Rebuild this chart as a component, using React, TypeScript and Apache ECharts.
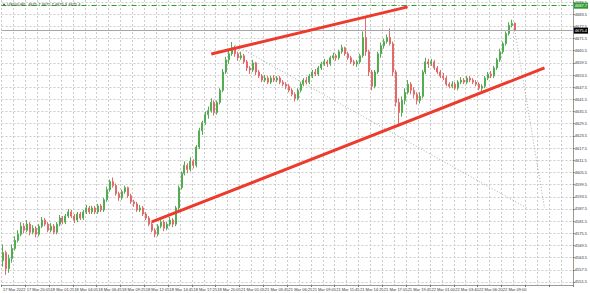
import React, { useEffect, useRef } from 'react';
import * as echarts from 'echarts';

// ---- time axis labels (one every 8 bars) ----
const timeLabels = [
  '17 Mar 2022', '17 Mar 20:05', '18 Mar 01:25', '18 Mar 04:05', '18 Mar 06:45', '18 Mar 09:25',
  '18 Mar 12:05', '18 Mar 14:45', '18 Mar 17:25', '18 Mar 20:05', '21 Mar 01:05', '21 Mar 03:45',
  '21 Mar 06:25', '21 Mar 09:05', '21 Mar 11:45', '21 Mar 14:25', '21 Mar 17:05', '21 Mar 19:45',
  '22 Mar 01:00', '22 Mar 03:40', '22 Mar 06:20', '22 Mar 09:00',
];
const LABEL_STEP = 8;
const TOTAL_SLOTS = 192;

// ---- price scale ticks ----
const yTicks = [
  4551.5, 4557.5, 4563.5, 4569.5, 4575.5, 4581.5, 4587.5, 4593.5, 4599.5, 4605.5, 4611.5, 4617.5,
  4623.5, 4629.5, 4635.5, 4641.5, 4647.5, 4653.5, 4659.5, 4665.5, 4671.5, 4677.5, 4683.5, 4689.5,
];

// ---- candles ----
const opens = [
  4562, 4566, 4558, 4563, 4568, 4572, 4575, 4579, 4577, 4580,
  4576, 4578, 4575, 4579, 4582, 4580, 4577, 4579, 4576, 4580,
  4583, 4581, 4584, 4586, 4584, 4582, 4585, 4583, 4586, 4588,
  4586, 4588, 4586, 4589, 4587, 4592, 4597, 4601, 4599, 4595,
  4593, 4596, 4598, 4594, 4591, 4590, 4587, 4588, 4585, 4583,
  4580, 4577, 4575, 4579, 4581, 4578, 4580, 4582, 4580, 4588,
  4598, 4605, 4609, 4607, 4611, 4609, 4618, 4626, 4630, 4634,
  4636, 4640, 4635, 4640, 4646, 4655, 4661, 4664, 4667, 4664,
  4662, 4663, 4660, 4657, 4656, 4659.5, 4655, 4653, 4651, 4652,
  4650, 4652, 4651, 4652, 4650, 4649, 4648, 4646, 4644, 4642,
  4646, 4649, 4651, 4650, 4653, 4655, 4654, 4657, 4659, 4660,
  4659, 4662, 4663, 4662, 4665, 4667, 4664, 4662, 4660, 4659,
  4660, 4663, 4672, 4665, 4655, 4648, 4655, 4664, 4668, 4670,
  4672, 4669, 4655, 4640, 4635, 4641, 4645, 4649, 4646, 4644,
  4641, 4643, 4655, 4660, 4659, 4660, 4657, 4655, 4653, 4652,
  4649, 4648, 4649, 4647, 4650, 4651, 4650, 4652, 4651, 4650,
  4649, 4647, 4648, 4652, 4654, 4653, 4657, 4661, 4665, 4669,
  4674, 4678, 4679,
];
const closes = [
  4566, 4558, 4563, 4568, 4572, 4575, 4579, 4577, 4580, 4576,
  4578, 4575, 4579, 4582, 4580, 4577, 4579, 4576, 4580, 4583,
  4581, 4584, 4586, 4584, 4582, 4585, 4583, 4586, 4588, 4586,
  4588, 4586, 4589, 4587, 4592, 4597, 4601, 4599, 4595, 4593,
  4596, 4598, 4594, 4591, 4590, 4587, 4588, 4585, 4583, 4580,
  4577, 4575, 4579, 4581, 4578, 4580, 4582, 4580, 4588, 4598,
  4605, 4609, 4607, 4611, 4609, 4618, 4626, 4630, 4634, 4636,
  4640, 4635, 4640, 4646, 4655, 4661, 4664, 4667, 4664, 4662,
  4663, 4660, 4657, 4656, 4659.5, 4655, 4653, 4651, 4652, 4650,
  4652, 4651, 4652, 4650, 4649, 4648, 4646, 4644, 4642, 4646,
  4649, 4651, 4650, 4653, 4655, 4654, 4657, 4659, 4660, 4659,
  4662, 4663, 4662, 4665, 4667, 4664, 4662, 4660, 4659, 4660,
  4663, 4672, 4665, 4655, 4648, 4655, 4664, 4668, 4670, 4672,
  4669, 4655, 4640, 4635, 4641, 4645, 4649, 4646, 4644, 4641,
  4643, 4655, 4660, 4659, 4660, 4657, 4655, 4653, 4652, 4649,
  4648, 4649, 4647, 4650, 4651, 4650, 4652, 4651, 4650, 4649,
  4647, 4648, 4652, 4654, 4653, 4657, 4661, 4665, 4669, 4674,
  4678, 4679, 4675.4,
];
const lows = [
  4559, 4555, 4556, 4561, 4567, 4571, 4574, 4575.5, 4576, 4574.5,
  4575, 4573.5, 4574, 4578, 4579, 4576, 4576, 4575, 4575, 4579,
  4580, 4580, 4583, 4583, 4580.5, 4581, 4582, 4582, 4585, 4585,
  4585, 4585, 4585, 4586, 4586, 4591, 4596, 4598, 4594, 4591.5,
  4592, 4595, 4593, 4590, 4588.5, 4586, 4586, 4584, 4582, 4579,
  4576, 4573.5, 4574, 4578, 4576.5, 4577, 4579, 4578.5, 4579, 4587,
  4597, 4604, 4605, 4606, 4607.5, 4608, 4617, 4624, 4629, 4632,
  4635, 4633.5, 4634, 4639, 4645, 4654, 4659, 4663, 4662.5, 4660.5,
  4661, 4659, 4655.5, 4654, 4655, 4653.5, 4652, 4650, 4650, 4649,
  4649, 4650, 4650, 4649, 4648, 4646.5, 4645, 4643, 4640.5, 4641,
  4645, 4648, 4649, 4649, 4652, 4653, 4653, 4656, 4658, 4657.5,
  4658, 4661, 4660.5, 4661, 4664, 4663, 4661, 4659, 4658, 4657.5,
  4659, 4662, 4663, 4653, 4646, 4647, 4654, 4662, 4666.5, 4669,
  4668, 4653, 4638, 4628, 4633, 4639, 4644, 4644, 4642, 4639,
  4639.5, 4642, 4654, 4657, 4658, 4656, 4654, 4652, 4651, 4648,
  4647, 4647, 4646, 4646, 4649, 4649, 4649, 4650, 4649, 4648,
  4646, 4645.5, 4647, 4651, 4652, 4652, 4656, 4660, 4664, 4668,
  4673, 4677, 4675,
];
const highs = [
  4570, 4567, 4565, 4570, 4574, 4577, 4581, 4580.5, 4582, 4581,
  4579.5, 4579, 4580, 4583.5, 4583, 4581, 4580.5, 4580, 4581, 4584.5,
  4584, 4585, 4587.5, 4587, 4585, 4586, 4586, 4587, 4589.5, 4589,
  4589, 4589, 4590, 4590, 4593, 4598.5, 4602, 4603, 4600, 4596,
  4597, 4599, 4598.5, 4595, 4592, 4591, 4589.5, 4589, 4586, 4584,
  4581, 4578, 4580, 4582.5, 4582, 4581, 4583.5, 4583, 4589, 4599,
  4606, 4611, 4610, 4613, 4612, 4619, 4627.5, 4631, 4635.5, 4638,
  4642, 4641, 4641, 4647, 4656.5, 4662.5, 4665.5, 4669.8, 4668, 4665,
  4665, 4664, 4661, 4658, 4661, 4660, 4656, 4654, 4653.5, 4653,
  4653, 4653.5, 4653, 4653, 4651, 4650, 4649, 4647, 4645, 4647,
  4650, 4652, 4652.5, 4654, 4656, 4656.5, 4658, 4660, 4661.5, 4661,
  4663, 4664.5, 4664, 4666, 4668.5, 4667.5, 4665, 4663, 4661, 4661,
  4664, 4675, 4682, 4666, 4656, 4656, 4665, 4669.5, 4671.5, 4673.5,
  4676.5, 4670, 4656, 4642, 4643, 4647, 4651, 4650, 4647.5, 4645,
  4645, 4656, 4662, 4661.5, 4661.5, 4661, 4658, 4656, 4654.5, 4653,
  4650, 4650.5, 4650, 4651, 4652.5, 4652, 4653, 4653, 4652, 4651,
  4650, 4649, 4653, 4655, 4655.5, 4658, 4662, 4666.5, 4670, 4675,
  4679.5, 4680.8, 4679.5,
];

// ---- drawn objects: [barIndex, price] ----
const upperTrend = [[69.5, 4663.9], [135.5, 4687.1]];
const lowerTrend = [[49.5, 4581.1], [182.2, 4657.0]];
const projLine1 = [[77.5, 4668.3], [176.2, 4588.0]];
const projLine2 = [[172.2, 4675.7], [182.2, 4588.0]];
const bidPrice = 4675.4;
const alertPrice = 4687.7;
const headerText = 'US500,M5  4675.7 4675.7 4675.3 4675.4';

const UP = '#52ad52';
const DOWN = '#e26a6a';
const TREND = '#ec3b2c';
const GRID = '#cccccc';

export default function App() {
  const ref = useRef<HTMLDivElement>(null);
  useEffect(() => {
    if (!ref.current) return;
    const chart = echarts.init(ref.current, undefined, { renderer: 'svg' });
    const categories = Array.from({ length: TOTAL_SLOTS }, (_, i) => String(i));
    const candles = opens.map((o, i) => [o, closes[i], lows[i], highs[i]]);
    const pair = (pts: number[][], style: any) => [
      { coord: pts[0], lineStyle: style },
      { coord: pts[1] },
    ];
    const trendStyle = { color: TREND, width: 3, type: 'solid' };
    const projStyle = { color: '#8c9a8c', width: 0.8, type: [1, 2] };
    chart.setOption({
      animation: false,
      backgroundColor: '#ffffff',
      grid: { left: 0, right: 14, top: 0, bottom: 8 },
      xAxis: {
        type: 'category',
        data: categories,
        boundaryGap: true,
        axisLine: { show: true, lineStyle: { color: '#9a9a9a' } },
        axisTick: { show: true, interval: LABEL_STEP - 1, length: 2, lineStyle: { color: '#777' } },
        axisLabel: {
          interval: LABEL_STEP - 1,
          fontSize: 4,
          color: '#333',
          align: 'left',
          margin: 2,
          hideOverlap: false,
          formatter: (_v: string, i: number) =>
            i % LABEL_STEP === 0 && timeLabels[i / LABEL_STEP] ? timeLabels[i / LABEL_STEP] : '',
        },
        splitLine: { show: true, interval: 3, lineStyle: { color: GRID, type: [2, 2], width: 1 } },
      },
      yAxis: {
        type: 'value',
        position: 'right',
        min: 4550,
        max: 4690.5,
        scale: true,
        axisLine: { show: true, lineStyle: { color: '#9a9a9a' } },
        axisTick: { show: true, length: 2, customValues: yTicks, lineStyle: { color: '#777' } },
        axisLabel: {
          fontSize: 4,
          color: '#333',
          margin: 2,
          customValues: yTicks,
          formatter: (v: number) => v.toFixed(1),
        },
        splitLine: { show: true, lineStyle: { color: GRID, type: [2, 2], width: 1 } },
      },
      series: [
        {
          type: 'candlestick',
          data: candles,
          barWidth: 1.5,
          itemStyle: { color: UP, color0: DOWN, borderColor: UP, borderColor0: DOWN, borderWidth: 1 },
          markLine: {
            symbol: ['none', 'none'],
            silent: true,
            animation: false,
            label: { show: false },
            data: [
              { yAxis: alertPrice, lineStyle: { color: '#2f9a2f', width: 1, type: [5, 2, 1, 2] },
                label: { show: true, position: 'end', distance: 1, formatter: alertPrice.toFixed(1),
                  backgroundColor: '#2f9a2f', color: '#fff', fontSize: 4, padding: [1, 1] } },
              { yAxis: bidPrice, lineStyle: { color: '#a8a8a8', width: 1, type: 'solid' },
                label: { show: true, position: 'end', distance: 1, formatter: bidPrice.toFixed(1),
                  backgroundColor: '#000', color: '#fff', fontSize: 4, padding: [1, 1] } },
              pair(projLine1, projStyle),
              pair(projLine2, projStyle),
              pair(upperTrend, trendStyle),
              pair(lowerTrend, trendStyle),
            ],
          },
        },
      ],
      graphic: [
        { type: 'text', left: 2, top: 2, style: { text: '▼', fontSize: 4, fill: '#333' } },
        { type: 'text', left: 7, top: 2, style: { text: headerText, fontSize: 4, fill: '#222', fontFamily: 'Liberation Sans' } },
      ],
    });
    return () => chart.dispose();
  }, []);
  return <div ref={ref} style={{ position: 'fixed', left: 0, top: 0, width: 590, height: 293 }} />;
}
